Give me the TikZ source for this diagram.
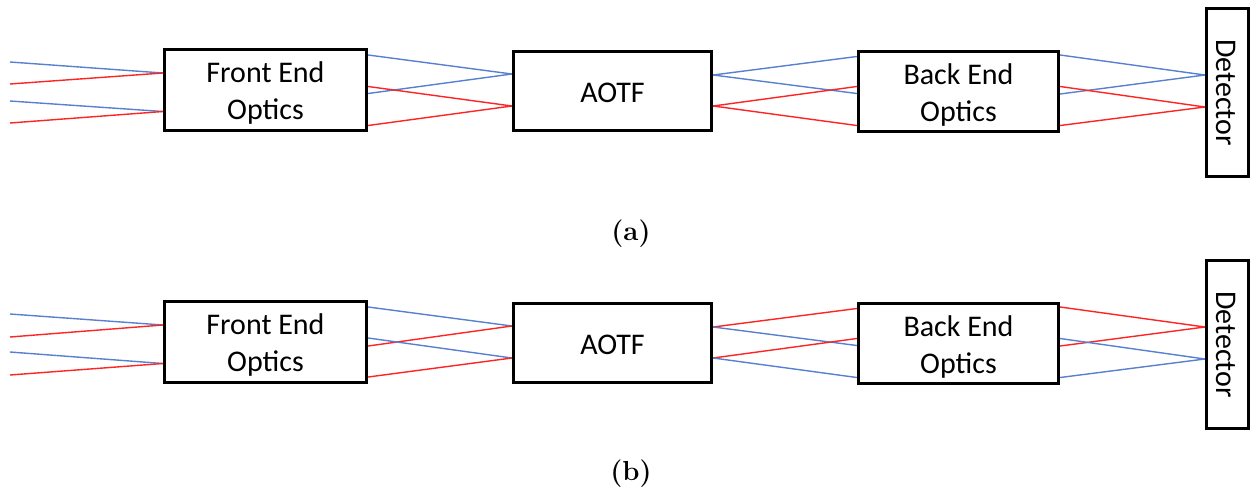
\documentclass[tikz,border=0pt]{standalone}
\usepackage{fontspec}
\setmainfont{Carlito}
\newfontfamily\capfont{Latin Modern Roman}
\usetikzlibrary{backgrounds}
\definecolor{rayblue}{RGB}{88,128,208}
\definecolor{rayred}{RGB}{255,35,35}
\tikzset{
  block/.style={draw=black, line width=3.3pt, inner sep=0pt},
  blocktext/.style={inner sep=0pt, align=center, font=\fontsize{30}{37}\selectfont},
  blueray/.style={draw=rayblue, line width=1.4pt},
  redray/.style={draw=rayred, line width=1.4pt},
  caption/.style={anchor=base, inner sep=0pt,
    font=\capfont\fontsize{27.5}{32}\selectfont\bfseries},
}
\begin{document}
\begin{tikzpicture}[x=1pt,y=-1pt]
\useasboundingbox (0,0) rectangle (1252,488);

% ---------------- panel (a) ----------------
\node[block, minimum width=202pt, minimum height=81pt] (feA) at (265.5,90) {};
\node[block, minimum width=198pt, minimum height=79pt] (aoA) at (612.5,91) {};
\node[block, minimum width=200pt, minimum height=80pt] (beA) at (958.5,91.5) {};
\node[block, minimum width=42pt, minimum height=168pt] (deA) at (1227.5,92.5) {};
\node[blocktext] (feAt) at ([yshift=-3pt]feA.center) {Front End\\Optics};
\node[blocktext] (aoAt) at ([yshift=-2pt]aoA.center) {AOTF};
\node[blocktext] (beAt) at ([yshift=-3pt]beA.center) {Back End\\Optics};
\node[blocktext, rotate=-90] (deAt) at ([xshift=-2pt]deA.center) {Detector};
\node[caption] (capA) at (631,240) {(a)};

\coordinate (inA1) at (10,62);
\coordinate (inA2) at (10,84);
\coordinate (inA3) at (10,101);
\coordinate (inA4) at (10,123);

\begin{scope}[on background layer]
  % incoming rays
  \draw[blueray] (inA1) -- ([yshift=17pt]feA.west);
  \draw[redray]  (inA2) -- ([yshift=17pt]feA.west);
  \draw[blueray] (inA3) -- ([yshift=-21.5pt]feA.west);
  \draw[redray]  (inA4) -- ([yshift=-21.5pt]feA.west);
  % front end optics to AOTF
  \draw[blueray] ([yshift=35pt]feA.east)   -- ([yshift=17pt]aoA.west);
  \draw[blueray] ([yshift=-3.5pt]feA.east) -- ([yshift=17pt]aoA.west);
  \draw[redray]  ([yshift=3.5pt]feA.east)  -- ([yshift=-15pt]aoA.west);
  \draw[redray]  ([yshift=-35.5pt]feA.east) -- ([yshift=-15pt]aoA.west);
  % AOTF to back end optics
  \draw[blueray] ([yshift=16pt]aoA.east)  -- ([yshift=35pt]beA.west);
  \draw[blueray] ([yshift=16pt]aoA.east)  -- ([yshift=-2pt]beA.west);
  \draw[redray]  ([yshift=-15pt]aoA.east) -- ([yshift=5pt]beA.west);
  \draw[redray]  ([yshift=-15pt]aoA.east) -- ([yshift=-34pt]beA.west);
  % back end optics to detector
  \draw[blueray] ([yshift=36.5pt]beA.east) -- ([yshift=17.5pt]deA.west);
  \draw[blueray] ([yshift=-2.5pt]beA.east) -- ([yshift=17.5pt]deA.west);
  \draw[redray]  ([yshift=5pt]beA.east)    -- ([yshift=-14.5pt]deA.west);
  \draw[redray]  ([yshift=-34pt]beA.east)  -- ([yshift=-14.5pt]deA.west);
\end{scope}

% ---------------- panel (b) ----------------
\node[block, minimum width=202pt, minimum height=81pt] (feB) at (265.5,342) {};
\node[block, minimum width=198pt, minimum height=79pt] (aoB) at (612.5,343) {};
\node[block, minimum width=200pt, minimum height=80pt] (beB) at (958.5,343.5) {};
\node[block, minimum width=42pt, minimum height=168pt] (deB) at (1227.5,344.5) {};
\node[blocktext] (feBt) at ([yshift=-3pt]feB.center) {Front End\\Optics};
\node[blocktext] (aoBt) at ([yshift=-2pt]aoB.center) {AOTF};
\node[blocktext] (beBt) at ([yshift=-3pt]beB.center) {Back End\\Optics};
\node[blocktext, rotate=-90] (deBt) at ([xshift=-2pt]deB.center) {Detector};
\node[caption] (capB) at (631,480) {(b)};

\coordinate (inB1) at (10,314);
\coordinate (inB2) at (10,337);
\coordinate (inB3) at (10,352);
\coordinate (inB4) at (10,375);

\begin{scope}[on background layer]
  % incoming rays
  \draw[blueray] (inB1) -- ([yshift=17pt]feB.west);
  \draw[redray]  (inB2) -- ([yshift=17pt]feB.west);
  \draw[blueray] (inB3) -- ([yshift=-21.5pt]feB.west);
  \draw[redray]  (inB4) -- ([yshift=-21.5pt]feB.west);
  % front end optics to AOTF
  \draw[blueray] ([yshift=35pt]feB.east)   -- ([yshift=17pt]aoB.west);
  \draw[redray]  ([yshift=-4pt]feB.east)   -- ([yshift=17pt]aoB.west);
  \draw[blueray] ([yshift=4pt]feB.east)    -- ([yshift=-15pt]aoB.west);
  \draw[redray]  ([yshift=-35pt]feB.east)  -- ([yshift=-15pt]aoB.west);
  % AOTF to back end optics
  \draw[redray]  ([yshift=16pt]aoB.east)  -- ([yshift=35pt]beB.west);
  \draw[blueray] ([yshift=16pt]aoB.east)  -- ([yshift=-2pt]beB.west);
  \draw[redray]  ([yshift=-15pt]aoB.east) -- ([yshift=5pt]beB.west);
  \draw[blueray] ([yshift=-15pt]aoB.east) -- ([yshift=-34pt]beB.west);
  % back end optics to detector
  \draw[redray]  ([yshift=36.5pt]beB.east) -- ([yshift=17.5pt]deB.west);
  \draw[redray]  ([yshift=-2.5pt]beB.east) -- ([yshift=17.5pt]deB.west);
  \draw[blueray] ([yshift=5pt]beB.east)    -- ([yshift=-14.5pt]deB.west);
  \draw[blueray] ([yshift=-34pt]beB.east)  -- ([yshift=-14.5pt]deB.west);
\end{scope}
\end{tikzpicture}
\end{document}
